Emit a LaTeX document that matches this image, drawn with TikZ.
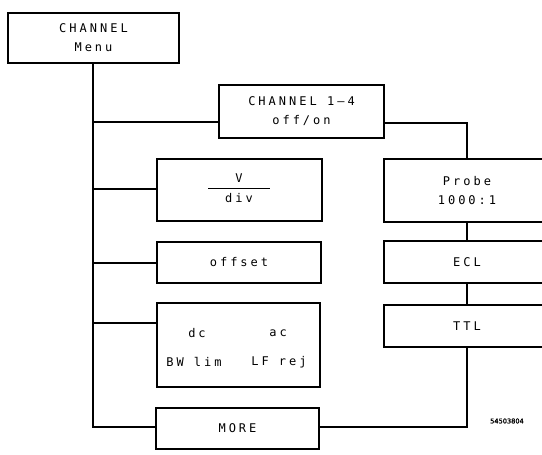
\documentclass[tikz,border=0pt]{standalone}
\usepackage{fontspec}
\setmainfont{DejaVu Sans Mono}[LetterSpace=25]
\newfontfamily\labelfont{DejaVu Sans}[FakeBold=1.5]
\begin{document}
\begin{tikzpicture}[x=1pt,y=1pt,
  box/.style={draw, line width=1.1pt, inner sep=0pt, align=center, font=\fontsize{12}{19}\selectfont},
  txt/.style={inner sep=0pt, font=\fontsize{12}{19}\selectfont},
  conn/.style={line width=1.1pt}]
\clip (0,0) rectangle (542,-455);
\fill[white] (0,0) rectangle (542,-455);
% boxes
\node[box, minimum width=171, minimum height=50] (menu) at (93.5,-38) {CHANNEL\\Menu};
\node[box, minimum width=165, minimum height=53] (ch14) at (301.5,-111.5) {CHANNEL\ 1--4\\off/on};
\node[box, minimum width=166, minimum height=63] (probe) at (467,-190.5) {Probe\\1000:1};
\node[box, minimum width=166, minimum height=42] (ecl) at (467,-262) {ECL};
\node[box, minimum width=166, minimum height=42] (ttl) at (467,-326) {TTL};
\node[box, minimum width=165, minimum height=62] (vdiv) at (239.5,-190) {};
\node[txt] (vtxt) at (239,-178) {V};
\node[txt] (divtxt) at (239,-198) {div};
\draw[line width=1pt] (208,-188) -- (270,-188);
\node[box, minimum width=164, minimum height=41] (offset) at (239,-262.5) {offset};
\node[box, minimum width=163, minimum height=84] (dcac) at (238.5,-345) {};
\node[txt] (dc) at (197,-333) {dc};
\node[txt] (ac) at (278,-333) {ac};
\node[txt] (bw) at (194,-362) {BW lim};
\node[txt] (lf) at (279,-362) {LF rej};
\node[box, minimum width=163, minimum height=41] (more) at (237.5,-428.5) {MORE};
\node[inner sep=0pt, font=\labelfont\fontsize{6.6}{7}\selectfont] (code) at (507,-421) {54503804};
% junction coordinates
\coordinate (bot) at (93,-427);
\coordinate (j1) at (93,-122);
\coordinate (j2) at (93,-189);
\coordinate (j3) at (93,-263);
\coordinate (j4) at (93,-323);
\coordinate (r1) at (467,-123);
\coordinate (r2) at (467,-427);
% connectors
\draw[conn] (menu.south -| bot) -- (bot) -- (bot -| more.west);
\draw[conn] (j1) -- (j1 -| ch14.west);
\draw[conn] (j2) -- (j2 -| vdiv.west);
\draw[conn] (j3) -- (j3 -| offset.west);
\draw[conn] (j4) -- (j4 -| dcac.west);
\draw[conn] (r1 -| ch14.east) -- (r1) -- (probe.north);
\draw[conn] (probe.south) -- (ecl.north);
\draw[conn] (ecl.south) -- (ttl.north);
\draw[conn] (ttl.south) -- (r2) -- (r2 -| more.east);
\end{tikzpicture}
\end{document}
